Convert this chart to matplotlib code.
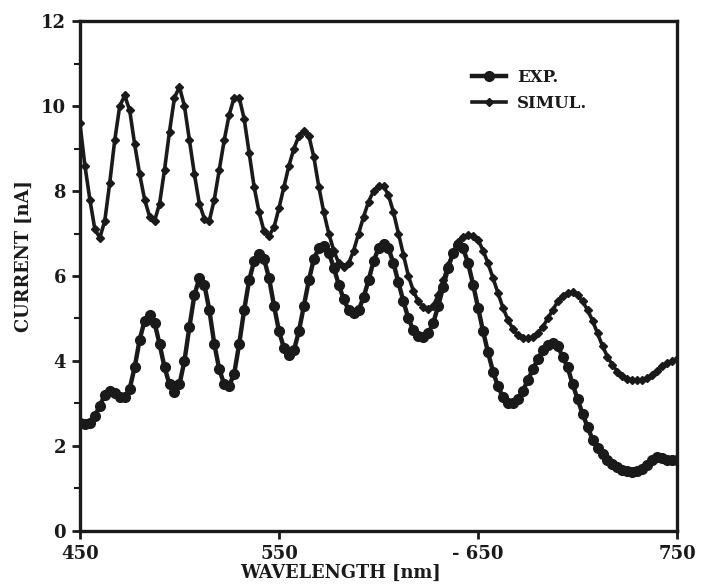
import numpy as np
import matplotlib
matplotlib.use('Agg')
from matplotlib import pyplot as plt
from matplotlib.ticker import MultipleLocator

# wavelength grid of the read-off samples (nm)
wavelength = np.arange(450, 750.1, 2.5)

# simulated photocurrent (nA), every 2.5 nm
simul = [9.6, 8.6, 7.8, 7.1, 6.9, 7.3, 8.2, 9.2, 10.0, 10.25,
         9.9, 9.1, 8.4, 7.8, 7.4, 7.3, 7.7, 8.5, 9.4, 10.2,
         10.45, 10.0, 9.2, 8.4, 7.7, 7.35, 7.3, 7.8, 8.5, 9.2,
         9.8, 10.2, 10.2, 9.7, 8.9, 8.1, 7.5, 7.05, 6.95, 7.15,
         7.6, 8.1, 8.6, 9.0, 9.3, 9.42, 9.3, 8.8, 8.1, 7.5,
         7.0, 6.6, 6.3, 6.22, 6.3, 6.6, 7.0, 7.4, 7.75, 8.0,
         8.12, 8.12, 7.9, 7.5, 7.0, 6.5, 6.0, 5.65, 5.4, 5.27,
         5.22, 5.3, 5.55, 5.9, 6.25, 6.55, 6.8, 6.92, 6.97, 6.95,
         6.85, 6.6, 6.3, 5.95, 5.6, 5.25, 4.97, 4.75, 4.6, 4.55,
         4.53, 4.56, 4.65, 4.8, 5.0, 5.2, 5.4, 5.52, 5.6, 5.62,
         5.55, 5.4, 5.2, 4.95, 4.65, 4.35, 4.1, 3.9, 3.75, 3.65,
         3.58, 3.55, 3.55, 3.55, 3.6, 3.67, 3.77, 3.87, 3.95, 4.0,
         4.05]

# measured photocurrent (nA)
exp = [2.54, 2.52, 2.55, 2.7, 2.95, 3.2, 3.3, 3.25, 3.15, 3.15,
       3.35, 3.85, 4.5, 4.95, 5.08, 4.9, 4.4, 3.85, 3.45, 3.28,
       3.45, 4.0, 4.8, 5.55, 5.95, 5.8, 5.2, 4.4, 3.8, 3.45,
       3.42, 3.7, 4.4, 5.2, 5.9, 6.35, 6.52, 6.4, 5.95, 5.3,
       4.7, 4.3, 4.14, 4.25, 4.7, 5.3, 5.9, 6.4, 6.65, 6.7,
       6.55, 6.2, 5.8, 5.45, 5.2, 5.13, 5.2, 5.5, 5.9, 6.35,
       6.65, 6.75, 6.65, 6.3, 5.85, 5.4, 5.0, 4.72, 4.58, 4.56,
       4.65, 4.9, 5.3, 5.75, 6.2, 6.55, 6.72, 6.65, 6.3, 5.8,
       5.25, 4.7, 4.2, 3.75, 3.4, 3.15, 3.02, 3.0, 3.1, 3.3,
       3.55, 3.8, 4.05, 4.25, 4.38, 4.42, 4.35, 4.1, 3.85, 3.45,
       3.1, 2.75, 2.45, 2.15, 1.95, 1.8, 1.68, 1.58, 1.5, 1.44,
       1.4, 1.38, 1.4, 1.45, 1.55, 1.68, 1.74, 1.72, 1.68, 1.67,
       1.67]

x_ticks = [450, 550, 650, 750]
x_ticklabels = ['450', '550', '- 650', '750']
y_ticks = [0, 2, 4, 6, 8, 10, 12]

INK = '#1a1a1a'
FONT = 'DejaVu Serif'

fig = plt.figure(figsize=(7.01, 5.86), dpi=100)
ax = fig.add_axes([0.114, 0.094, 0.852, 0.870])

ax.plot(wavelength, exp, color=INK, lw=3.2, marker='o', ms=7,
        label='EXP.')
ax.plot(wavelength, simul, color=INK, lw=2.6, marker='D', ms=4.5,
        label='SIMUL.')

ax.set_xlim(450, 750)
ax.set_ylim(0, 12)
ax.set_xticks(x_ticks)
ax.set_xticklabels(x_ticklabels)
ax.set_yticks(y_ticks)
ax.yaxis.set_minor_locator(MultipleLocator(1))

for s in ax.spines.values():
    s.set_linewidth(2.4)
    s.set_color(INK)
ax.tick_params(which='major', direction='out', length=6, width=2,
               color=INK, pad=4)
ax.tick_params(which='minor', direction='out', length=4, width=1.5,
               color=INK)
for lab in ax.get_xticklabels() + ax.get_yticklabels():
    lab.set_fontfamily(FONT)
    lab.set_fontweight('bold')
    lab.set_fontsize(13)
    lab.set_color(INK)

ax.set_xlabel('WAVELENGTH [nm]', fontfamily=FONT, fontweight='bold',
              fontsize=12.8, color=INK)
ax.xaxis.set_label_coords(0.437, -0.065)
ax.set_ylabel('CURRENT [nA]', fontfamily=FONT, fontweight='bold',
              fontsize=12.8, color=INK)
ax.yaxis.set_label_coords(-0.078, 0.54)

leg = ax.legend(loc='upper right', bbox_to_anchor=(0.875, 0.935),
                frameon=False, handlelength=2.0, handletextpad=0.7,
                labelspacing=0.5,
                prop={'family': FONT, 'weight': 'bold', 'size': 12})
for t in leg.get_texts():
    t.set_color(INK)

fig.savefig('out.png', dpi=100, facecolor='white')
